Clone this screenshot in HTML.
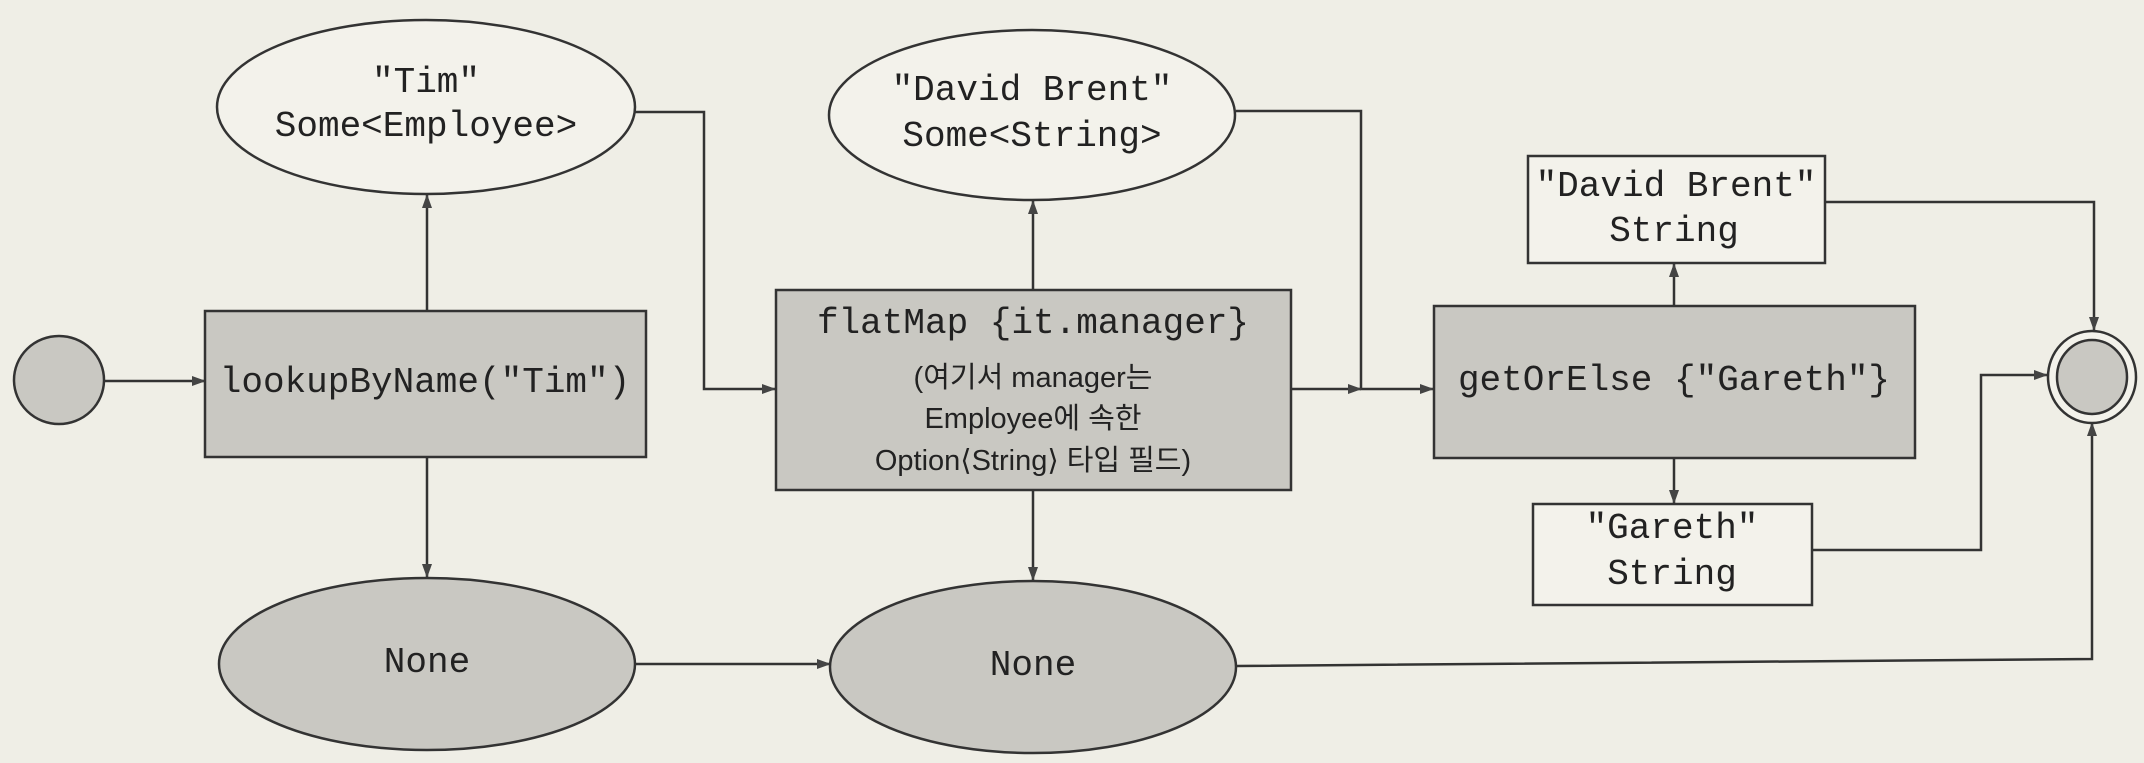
<!DOCTYPE html>
<html><head><meta charset="utf-8"><style>
html,body{margin:0;padding:0;background:#efeee6;overflow:hidden;}
svg{display:block}
.m{font-family:"Liberation Mono",monospace;font-size:36px;fill:#222}
.k{font-family:"Liberation Sans","Noto Sans CJK KR",sans-serif;font-size:29px;fill:#222}
</style></head><body>
<svg width="2144" height="763" viewBox="0 0 2144 763">
<defs><marker id="a" markerWidth="14" markerHeight="10" refX="13" refY="5" orient="auto" markerUnits="userSpaceOnUse"><path d="M0,0 L14,5 L0,10 z" fill="#444"/></marker></defs>
<rect width="2144" height="763" fill="#efeee6"/>
<g stroke="#333" stroke-width="2.5" fill="none" marker-end="url(#a)">
<path d="M104,381 L205,381"/>
<path d="M427,311 L427,195"/>
<path d="M427,457 L427,577"/>
<path d="M634,112 L704,112 L704,389 L775,389"/>
<path d="M636,664 L830,664"/>
<path d="M1033,290 L1033,201"/>
<path d="M1033,490 L1033,580"/>
<path d="M1236,111 L1361,111 L1361,389 L1433,389"/>
<path d="M1291,389 L1361,389"/>
<path d="M1674,306 L1674,264"/>
<path d="M1674,458 L1674,503"/>
<path d="M1825,202 L2094,202 L2094,330"/>
<path d="M1812,550 L1981,550 L1981,375 L2047,375"/>
<path d="M1236,666 L2092,659 L2092,423"/>
</g>
<g stroke="#333" stroke-width="2.5">
<ellipse cx="59" cy="380" rx="45" ry="44" fill="#c9c8c2"/>
<rect x="205" y="311" width="441" height="146" fill="#c9c8c2"/>
<ellipse cx="426" cy="107" rx="209" ry="87" fill="#f3f2eb"/>
<ellipse cx="427" cy="664" rx="208" ry="86" fill="#c9c8c2"/>
<rect x="776" y="290" width="515" height="200" fill="#c9c8c2"/>
<ellipse cx="1032" cy="115" rx="203" ry="85" fill="#f3f2eb"/>
<ellipse cx="1033" cy="667" rx="203" ry="86" fill="#c9c8c2"/>
<rect x="1434" y="306" width="481" height="152" fill="#c9c8c2"/>
<rect x="1528" y="156" width="297" height="107" fill="#f3f2eb"/>
<rect x="1533" y="504" width="279" height="101" fill="#f3f2eb"/>
<ellipse cx="2092" cy="377" rx="44" ry="46" fill="#f3f2eb"/>
<ellipse cx="2092" cy="377" rx="35" ry="37" fill="#c9c8c2"/>
</g>
<g text-anchor="middle">
<text class="m" x="426" y="92">"Tim"</text>
<text class="m" x="426" y="136">Some&lt;Employee&gt;</text>
<text class="m" x="425" y="392">lookupByName("Tim")</text>
<text class="m" x="427" y="672">None</text>
<text class="m" x="1032" y="100">"David Brent"</text>
<text class="m" x="1032" y="146">Some&lt;String&gt;</text>
<text class="m" x="1033" y="333">flatMap {it.manager}</text>
<text class="k" x="1033" y="387">(여기서 manager는</text>
<text class="k" x="1033" y="428">Employee에 속한</text>
<text class="k" x="1033" y="470">Option⟨String⟩ 타입 필드)</text>
<text class="m" x="1033" y="675">None</text>
<text class="m" x="1674" y="390">getOrElse {"Gareth"}</text>
<text class="m" x="1676" y="196">"David Brent"</text>
<text class="m" x="1674" y="241">String</text>
<text class="m" x="1672" y="538">"Gareth"</text>
<text class="m" x="1672" y="584">String</text>
</g>
</svg>
</body></html>
